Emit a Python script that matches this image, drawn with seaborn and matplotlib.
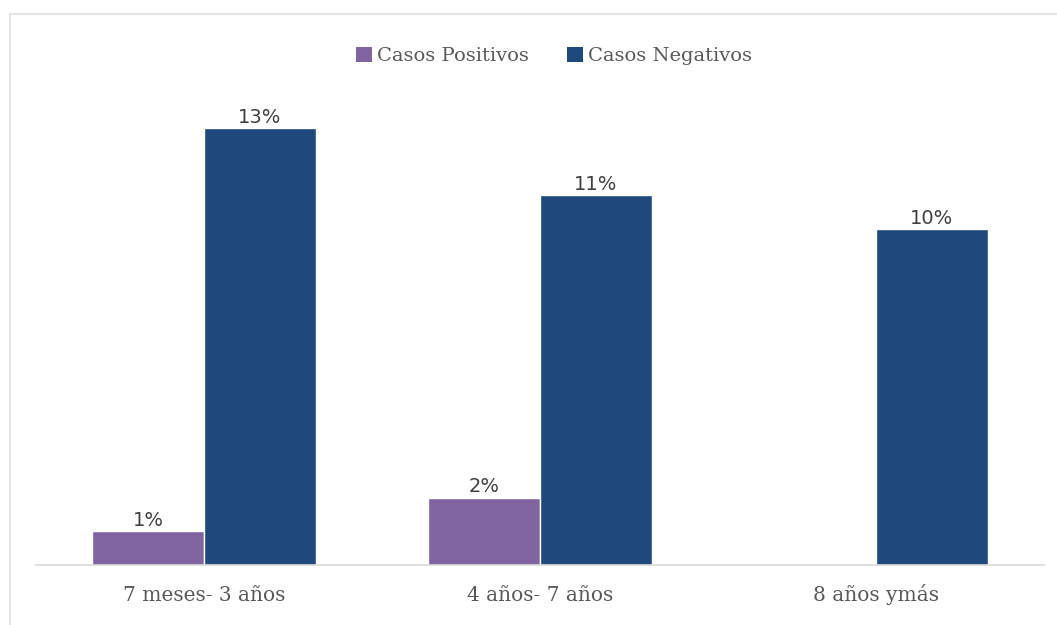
import numpy as np
import pandas as pd
import matplotlib
matplotlib.use("Agg")
import matplotlib.pyplot as plt
from matplotlib.patches import Rectangle, Patch
import seaborn as sns

# Age groups and share of cases (%) per result
grupos = ["7 meses- 3 años", "4 años- 7 años", "8 años ymás"]
positivos = [1, 2, None]
negativos = [13, 11, 10]
series = ["Casos Positivos", "Casos Negativos"]
colores = ["#8064A2", "#1F497D"]

filas = []
for g, p, n in zip(grupos, positivos, negativos):
    if p is not None:
        filas.append({"grupo": g, "serie": series[0], "valor": p})
    filas.append({"grupo": g, "serie": series[1], "valor": n})
df = pd.DataFrame(filas)

sns.set_theme(style="white")
plt.rcParams["font.family"] = ["DejaVu Serif"]
texto = "#595959"

fig = plt.figure(figsize=(10.57, 6.25), dpi=100)
ax = fig.add_axes([36 / 1057, 60 / 625, 1008 / 1057, 470.4 / 625])

sns.barplot(data=df, x="grupo", y="valor", hue="serie", order=grupos,
            hue_order=series, palette=colores, width=2 / 3, ax=ax,
            saturation=1, legend=False, errorbar=None)

for cont in ax.containers:
    ax.bar_label(cont, labels=[f"{v:.0f}%" for v in cont.datavalues],
                 padding=1, fontsize=14, color="#404040",
                 family="DejaVu Sans")

ax.set_xlim(-0.5, 2.5)
ax.set_ylim(0, 14)
ax.set_xlabel("")
ax.set_ylabel("")
ax.set_yticks([])
ax.tick_params(axis="x", length=0, pad=26, labelsize=14.5, labelcolor=texto)
for lbl in ax.get_xticklabels():
    lbl.set_verticalalignment("baseline")
for s in ["top", "right", "left"]:
    ax.spines[s].set_visible(False)
ax.spines["bottom"].set_color("#D9D9D9")
ax.spines["bottom"].set_linewidth(1.2)

handles = [Patch(facecolor=c, edgecolor="none") for c in colores]
fig.legend(handles, series, loc="center", bbox_to_anchor=(554 / 1057, 1 - 56 / 625),
           ncol=2, frameon=False, fontsize=14, labelcolor=texto,
           handlelength=0.8, handleheight=0.8, handletextpad=0.25,
           columnspacing=2.0)

# Light chart-area frame
fig.patches.append(Rectangle((10 / 1057, -0.1), 1.2, 1 - 14 / 625 + 0.1,
                             transform=fig.transFigure, fill=False,
                             edgecolor="#E6E6E6", linewidth=1.5))

fig.savefig("out.png", dpi=100, facecolor="white")
